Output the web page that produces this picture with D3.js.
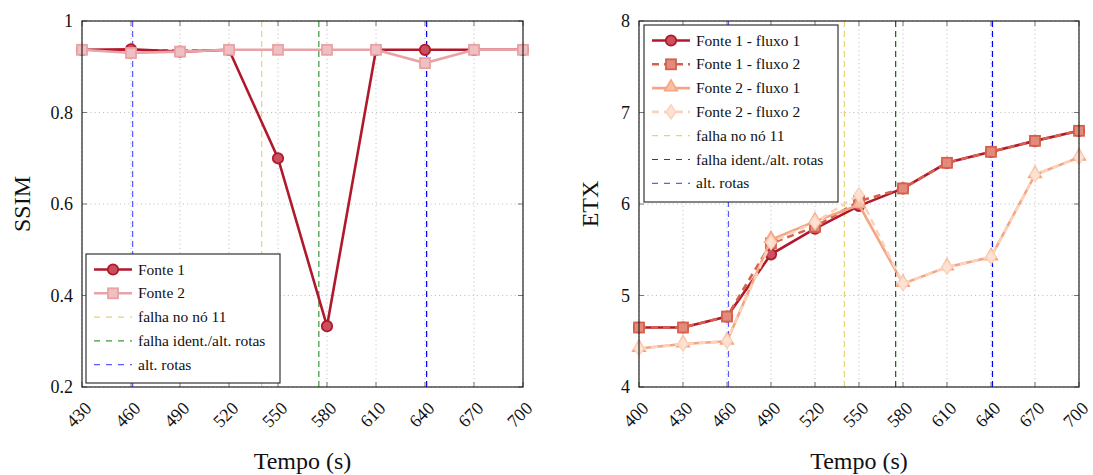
<!DOCTYPE html>
<html>
<head>
<meta charset="utf-8">
<script src="https://d3js.org/d3.v7.min.js"></script>
<style>
	body, html {
		margin: 0;
		padding: 0;
		background: #fff;
	}
	svg text {
		font-family: "Liberation Serif", "Times New Roman", "DejaVu Serif", serif;
	}
	.grid line {
		stroke: #c4c4c4;
		stroke-dasharray: 1.2,3;
	}
	.tick-label {
		font-size: 18px;
		fill: #111;
	}
	.axis-title {
		font-size: 24px;
		fill: #111;
	}
	.legend-text {
		font-size: 15.5px;
		fill: #111;
	}
</style>
</head>
<body>
<script>

	// ---- SSIM panel data
	var ssimTimes = [430, 460, 490, 520, 550, 580, 610, 640, 670, 700];
	var ssimFonte1 = [0.937, 0.938, 0.933, 0.937, 0.700, 0.333, 0.937, 0.937, 0.937, 0.937];
	var ssimFonte2 = [0.937, 0.930, 0.933, 0.937, 0.937, 0.937, 0.937, 0.908, 0.937, 0.937];
	var ssimYTicks = [0.2, 0.4, 0.6, 0.8, 1];
	var ssimYLabels = ["0.2", "0.4", "0.6", "0.8", "1"];
	var ssimBaseline = 0.937;

	// ---- ETX panel data
	var etxTimes = [400, 430, 460, 490, 520, 550, 580, 610, 640, 670, 700];
	var etxF1f1 = [4.65, 4.65, 4.77, 5.45, 5.73, 5.98, 6.17, 6.45, 6.57, 6.69, 6.80];
	var etxF1f2 = [4.65, 4.65, 4.77, 5.57, 5.75, 6.03, 6.17, 6.45, 6.57, 6.69, 6.80];
	var etxF2f1 = [4.42, 4.47, 4.50, 5.61, 5.81, 5.99, 5.13, 5.31, 5.42, 6.32, 6.51];
	var etxF2f2 = [4.42, 4.47, 4.50, 5.58, 5.80, 6.10, 5.13, 5.31, 5.42, 6.32, 6.51];
	var etxYTicks = [4, 5, 6, 7, 8];

	// ---- event markers (vertical dashed lines)
	var falhaNo = 540;
	var falhaIdent = 575;
	var altRotas = [461, 641];

	var W = 1093, H = 475;
	var svg = d3.select("body").append("svg")
		.attr("width", W)
		.attr("height", H)
		.attr("font-family", "Liberation Serif, Times New Roman, serif");

	function marker(g, shape, x, y, stroke, fill) {
		if (shape == "circle") {
			g.append("circle").attr("cx", x).attr("cy", y).attr("r", 5.2)
				.attr("fill", fill).attr("stroke", stroke).attr("stroke-width", 1.8);
		} else if (shape == "square") {
			g.append("rect").attr("x", x - 5).attr("y", y - 5).attr("width", 10).attr("height", 10)
				.attr("fill", fill).attr("stroke", stroke).attr("stroke-width", 1.8);
		} else if (shape == "triangle") {
			g.append("path").attr("d", d3.symbol(d3.symbolTriangle, 70)())
				.attr("transform", "translate(" + x + "," + (y - 1) + ")")
				.attr("fill", fill).attr("stroke", stroke).attr("stroke-width", 1.5);
		} else if (shape == "diamond") {
			g.append("path").attr("d", "M0,-7L5,0L0,7L-5,0Z")
				.attr("transform", "translate(" + x + "," + y + ")")
				.attr("fill", fill).attr("stroke", stroke).attr("stroke-width", 1.5);
		}
	}

	function panel(p) {
		var g = svg.append("g");
		var x = d3.scaleLinear().domain(p.xDomain).range([p.left, p.right]);
		var y = d3.scaleLinear().domain(p.yDomain).range([p.bottom, p.top]);

		// grid
		var grid = g.append("g").attr("class", "grid");
		grid.selectAll(".gx").data(p.xTicks).enter().append("line")
			.attr("x1", function(d) { return x(d); }).attr("x2", function(d) { return x(d); })
			.attr("y1", p.top).attr("y2", p.bottom);
		grid.selectAll(".gy").data(p.yTicks).enter().append("line")
			.attr("y1", function(d) { return y(d); }).attr("y2", function(d) { return y(d); })
			.attr("x1", p.left).attr("x2", p.right);

		// inward major ticks on all sides
		var tk = g.append("g").attr("stroke", "#777").attr("stroke-width", 1);
		p.xTicks.forEach(function(d) {
			tk.append("line").attr("x1", x(d)).attr("x2", x(d)).attr("y1", p.bottom).attr("y2", p.bottom - 5);
			tk.append("line").attr("x1", x(d)).attr("x2", x(d)).attr("y1", p.top).attr("y2", p.top + 5);
		});
		p.yTicks.forEach(function(d) {
			tk.append("line").attr("y1", y(d)).attr("y2", y(d)).attr("x1", p.left).attr("x2", p.left + 5);
			tk.append("line").attr("y1", y(d)).attr("y2", y(d)).attr("x1", p.right).attr("x2", p.right - 5);
		});

		// baseline
		if (p.baseline != null) {
			g.append("line")
				.attr("x1", p.left).attr("x2", p.right)
				.attr("y1", y(p.baseline)).attr("y2", y(p.baseline))
				.attr("stroke", "#707070").attr("stroke-width", 1.2).attr("stroke-dasharray", "6,4");
		}

		// event lines
		p.vlines.forEach(function(v) {
			g.append("line")
				.attr("x1", x(v.x)).attr("x2", x(v.x))
				.attr("y1", p.top).attr("y2", p.bottom)
				.attr("stroke", v.color).attr("stroke-width", 1.2).attr("stroke-dasharray", "6,4");
		});

		// series
		var line = d3.line().x(function(d) { return x(d[0]); }).y(function(d) { return y(d[1]); });
		p.series.forEach(function(s) {
			var pts = p.times.map(function(t, i) { return [t, s.values[i]]; });
			g.append("path").datum(pts)
				.attr("d", line)
				.attr("fill", "none")
				.attr("stroke", s.color)
				.attr("stroke-width", 2.6)
				.attr("stroke-dasharray", s.dash ? "7,5" : null);
			var mg = g.append("g");
			pts.forEach(function(d) {
				marker(mg, s.shape, x(d[0]), y(d[1]), s.color, s.fill);
			});
		});

		// frame
		g.append("rect")
			.attr("x", p.left).attr("y", p.top)
			.attr("width", p.right - p.left).attr("height", p.bottom - p.top)
			.attr("fill", "none").attr("stroke", "#222").attr("stroke-width", 1.2);

		// tick labels
		p.yTicks.forEach(function(d, i) {
			g.append("text").attr("class", "tick-label")
				.attr("x", p.left - 9).attr("y", y(d) + 6)
				.attr("text-anchor", "end")
				.text(p.yLabels[i]);
		});
		p.xTicks.forEach(function(d) {
			g.append("text").attr("class", "tick-label")
				.attr("text-anchor", "middle")
				.attr("transform", "translate(" + (x(d) + 1) + "," + (p.bottom + 32) + ") rotate(-45)")
				.text(d);
		});

		// axis titles
		g.append("text").attr("class", "axis-title")
			.attr("x", (p.left + p.right) / 2).attr("y", 469)
			.attr("text-anchor", "middle")
			.text("Tempo (s)");
		g.append("text").attr("class", "axis-title")
			.attr("text-anchor", "middle")
			.attr("transform", "translate(" + p.yTitleX + "," + ((p.top + p.bottom) / 2) + ") rotate(-90)")
			.text(p.yTitle);

		// legend
		var L = p.legend;
		var lg = g.append("g");
		lg.append("rect")
			.attr("x", L.x).attr("y", L.y).attr("width", L.w).attr("height", L.h)
			.attr("fill", "#fff").attr("stroke", "#222").attr("stroke-width", 1.1);
		L.items.forEach(function(it, i) {
			var cy = L.y + 15.5 + i * 23.8;
			var x1 = L.x + 8, x2 = L.x + 46;
			lg.append("line")
				.attr("x1", x1).attr("x2", x2).attr("y1", cy).attr("y2", cy)
				.attr("stroke", it.color)
				.attr("stroke-width", it.shape ? 2.6 : 1.2)
				.attr("stroke-dasharray", it.dash ? (it.shape ? "7,5" : "6,6") : null);
			if (it.shape) marker(lg, it.shape, (x1 + x2) / 2, cy, it.color, it.fill);
			lg.append("text").attr("class", "legend-text")
				.attr("x", L.x + 52).attr("y", cy + 5)
				.text(it.label);
		});
	}

	var cF1 = "#b2182b", cF1fill = "#c9505f";
	var cPink = "#e8a3a6", cPinkFill = "#f0bfc1";
	var cF1f2 = "#d6604d", cF1f2fill = "#e28a7c";
	var cF2f1 = "#f4a582", cF2f1fill = "#f7bea4";
	var cF2f2 = "#fbd3bd", cF2f2fill = "#fde2d3";
	var cYellow = "#e8d36e";
	var cBlueLight = "#5b5bff", cBlue = "#0000ff";

	panel({
		left: 82, right: 523, top: 21, bottom: 387,
		xDomain: [430, 700], yDomain: [0.2, 1],
		xTicks: ssimTimes, yTicks: ssimYTicks, yLabels: ssimYLabels,
		times: ssimTimes,
		baseline: ssimBaseline,
		vlines: [
			{x: altRotas[0], color: cBlueLight},
			{x: falhaNo, color: cYellow},
			{x: falhaIdent, color: "#3a9a3a"},
			{x: altRotas[1], color: cBlue}
		],
		series: [
			{values: ssimFonte1, color: cF1, fill: cF1fill, shape: "circle"},
			{values: ssimFonte2, color: cPink, fill: cPinkFill, shape: "square"}
		],
		yTitle: "SSIM", yTitleX: 30,
		legend: {
			x: 86, y: 254, w: 194, h: 129,
			items: [
				{label: "Fonte 1", color: cF1, fill: cF1fill, shape: "circle"},
				{label: "Fonte 2", color: cPink, fill: cPinkFill, shape: "square"},
				{label: "falha no nó 11", color: cYellow, dash: true},
				{label: "falha ident./alt. rotas", color: "#3a9a3a", dash: true},
				{label: "alt. rotas", color: cBlueLight, dash: true}
			]
		}
	});

	panel({
		left: 639, right: 1079, top: 21, bottom: 387,
		xDomain: [400, 700], yDomain: [4, 8],
		xTicks: etxTimes, yTicks: etxYTicks, yLabels: etxYTicks.map(String),
		times: etxTimes,
		baseline: null,
		vlines: [
			{x: altRotas[0], color: cBlueLight},
			{x: falhaNo, color: cYellow},
			{x: falhaIdent, color: "#1a5a1a"},
			{x: altRotas[1], color: cBlue}
		],
		series: [
			{values: etxF1f1, color: cF1, fill: cF1fill, shape: "circle"},
			{values: etxF1f2, color: cF1f2, fill: cF1f2fill, shape: "square", dash: true},
			{values: etxF2f1, color: cF2f1, fill: cF2f1fill, shape: "triangle"},
			{values: etxF2f2, color: cF2f2, fill: cF2f2fill, shape: "diamond", dash: true}
		],
		yTitle: "ETX", yTitleX: 598,
		legend: {
			x: 644, y: 25, w: 194, h: 177,
			items: [
				{label: "Fonte 1 - fluxo 1", color: cF1, fill: cF1fill, shape: "circle"},
				{label: "Fonte 1 - fluxo 2", color: cF1f2, fill: cF1f2fill, shape: "square", dash: true},
				{label: "Fonte 2 - fluxo 1", color: cF2f1, fill: cF2f1fill, shape: "triangle"},
				{label: "Fonte 2 - fluxo 2", color: cF2f2, fill: cF2f2fill, shape: "diamond", dash: true},
				{label: "falha no nó 11", color: cYellow, dash: true},
				{label: "falha ident./alt. rotas", color: "#1a5a1a", dash: true},
				{label: "alt. rotas", color: cBlueLight, dash: true}
			]
		}
	});

</script>
</body>
</html>
